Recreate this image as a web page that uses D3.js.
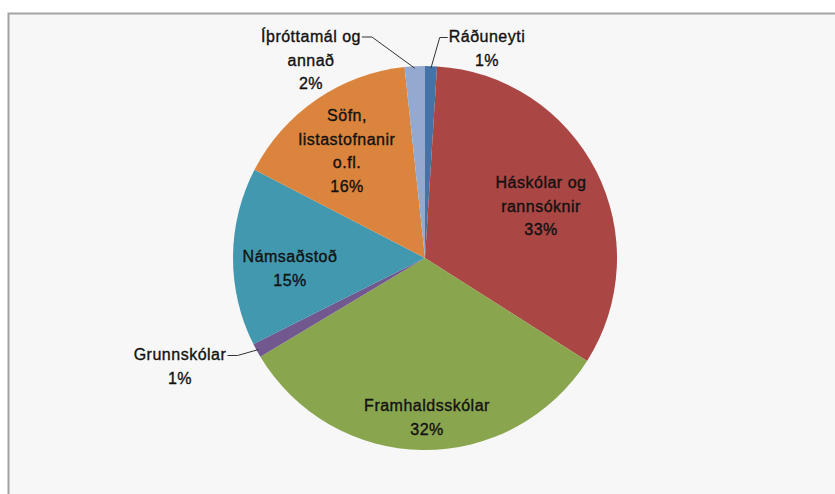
<!DOCTYPE html>
<html>
<head>
<meta charset="utf-8">
<script src="https://cdn.jsdelivr.net/npm/d3@7"></script>
<style>
  body { margin: 0; background: #fff; }
  svg text.lbl { font-family: "Liberation Sans", sans-serif; font-weight: normal; fill: #111; stroke: #111; stroke-width: 0.35px; }
</style>
</head>
<body>
<svg id="chart" width="835" height="494"></svg>
<script>
// slice data, clockwise from 12 o'clock
var categories = ['Ráðuneyti', 'Háskólar og rannsóknir', 'Framhaldsskólar', 'Grunnskólar',
                  'Námsaðstoð', 'Söfn, listastofnanir o.fl.', 'Íþróttamál og annað'];
var shares = [1.0, 33.0, 32.4, 1.2, 15.0, 15.7, 1.7];
var sliceColors = ['#4572A7', '#AA4643', '#89A54E', '#71588F', '#4198AF', '#DB843D', '#93A9CF'];
// label lines as wrapped in the original
var labelLines = [['Ráðuneyti'], ['Háskólar og', 'rannsóknir'], ['Framhaldsskólar'], ['Grunnskólar'],
                  ['Námsaðstoð'], ['Söfn,', 'listastofnanir', 'o.fl.'], ['Íþróttamál og', 'annað']];

var svg = d3.select('#chart');
var cx = 425, cy = 258, radius = 192;
var lineH = 23.5;

// chart area frame
svg.append('rect')
  .attr('x', 8.5).attr('y', 13.5)
  .attr('width', 900).attr('height', 600)
  .attr('fill', '#f7f7f7')
  .attr('stroke', '#a3a3a3')
  .attr('stroke-width', 2);

var total = d3.sum(shares);
var pie = d3.pie().sort(null).value(function(d){ return d; });
var arcs = pie(shares);
var arc = d3.arc().innerRadius(0).outerRadius(radius);

var g = svg.append('g').attr('transform', 'translate(' + cx + ',' + cy + ')');

g.selectAll('path.slice')
  .data(arcs)
  .enter()
  .append('path')
  .classed('slice', true)
  .attr('d', arc)
  .attr('fill', function(d, i){ return sliceColors[i]; });

// label anchors (centre x, first baseline); small slices get outside labels with leaders
var labelPos = [
  {x: 487, y: 42, leader: true},
  {x: 541, y: 188},
  {x: 427, y: 411},
  {x: 180, y: 360, leader: true},
  {x: 290, y: 262},
  {x: 347, y: 121},
  {x: 311, y: 42, leader: true}
];

var labels = svg.selectAll('g.slice_label')
  .data(arcs)
  .enter()
  .append('g')
  .classed('slice_label', true);

labels.each(function(d, i) {
  var lines = labelLines[i].concat([Math.round(d.value / total * 100) + '%']);
  var pos = labelPos[i];
  d3.select(this).selectAll('text')
    .data(lines)
    .enter()
    .append('text')
    .classed('lbl', true)
    .attr('x', pos.x)
    .attr('y', function(t, j){ return pos.y + j * lineH; })
    .attr('text-anchor', 'middle')
    .style('font-size', '16px')
    .style('letter-spacing', '0.5px')
    .text(function(t){ return t; });
});

// leader lines for the outside labels
var leaderArc = d3.arc().innerRadius(radius - 2).outerRadius(radius - 2);
labels.filter(function(d, i){ return labelPos[i].leader; })
  .each(function(d) {
    var idx = arcs.indexOf(d);
    var bbox = d3.select(this).select('text').node().getBBox();
    var c = leaderArc.centroid(d);
    var tip = [cx + c[0], cy + c[1]];
    var ly = bbox.y + bbox.height * 0.5 + 1;
    var startX, elbowX;
    if (idx === 0) {          // label sits right of its line
      startX = bbox.x - 1; elbowX = startX - 8;
    } else {                  // label sits left of its line
      startX = bbox.x + bbox.width + 1; elbowX = startX + 10;
    }
    d3.select(this).append('path')
      .attr('d', d3.line()([[startX, ly], [elbowX, ly], tip]))
      .attr('fill', 'none')
      .attr('stroke', '#333')
      .attr('stroke-width', 1);
  });
</script>
</body>
</html>
